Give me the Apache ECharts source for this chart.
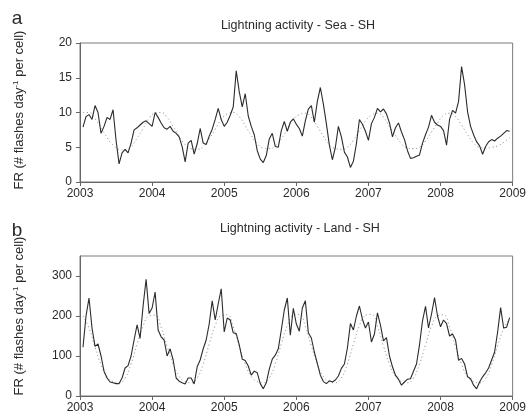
<!DOCTYPE html>
<html>
<head>
<meta charset="utf-8">
<script src="https://cdn.jsdelivr.net/npm/echarts@6/dist/echarts.min.js"></script>
<style>
  html, body { margin: 0; padding: 0; background: #ffffff; }
  #chart { width: 529px; height: 414px; }
</style>
</head>
<body>
<div id="chart"></div>
<script>
// Flash rate series, sampled every 1/24 year, first sample at 2003 + 1/24
const startYear = 2003;
const samplesPerYear = 24;
const yearTicks = [2003, 2004, 2005, 2006, 2007, 2008, 2009];

// Sea, southern hemisphere (flashes per day per cell)
const seaFR = [
  7.9, 9.4, 9.7, 9.0, 11.0, 10.0, 7.0, 8.0, 9.3, 9.0, 10.4, 6.0,
  2.6, 4.2, 4.7, 4.2, 5.6, 7.5, 7.8, 8.2, 8.6, 8.8, 8.4, 8.0,
  10.0, 9.3, 8.5, 7.8, 7.6, 8.0, 7.3, 7.0, 6.5, 5.1, 2.9, 5.6,
  6.0, 4.0, 5.5, 7.7, 5.6, 5.4, 6.6, 7.6, 9.0, 10.6, 9.0, 8.0,
  8.6, 9.6, 10.8, 16.0, 13.0, 10.8, 12.7, 9.5, 8.0, 6.8, 4.5, 3.3,
  2.8, 3.8, 6.2, 7.0, 5.1, 5.0, 7.4, 8.7, 7.3, 8.6, 9.1, 8.3,
  7.7, 6.6, 8.8, 10.5, 11.0, 8.6, 11.6, 13.6, 11.2, 8.4, 5.3, 3.2,
  5.0, 8.0, 6.5, 4.3, 3.6, 2.1, 3.0, 5.5, 9.0, 8.3, 7.3, 6.0,
  8.4, 9.3, 10.6, 10.1, 10.5, 9.8, 8.5, 6.5, 7.8, 8.5, 7.2, 6.1,
  4.5, 3.4, 3.5, 3.7, 3.9, 5.6, 6.8, 7.9, 9.6, 8.6, 8.2, 8.0,
  7.4, 5.3, 9.0, 10.3, 9.9, 11.6, 16.6, 14.0, 10.1, 8.0, 6.8, 5.8,
  5.2, 4.0, 5.1, 5.8, 6.1, 5.9, 6.3, 6.6, 7.0, 7.4, 7.3
];

// Land, southern hemisphere
const landFR = [
  122, 200, 245, 170, 124, 130, 100, 62, 45, 35, 33, 31,
  31, 45, 70, 76, 100, 140, 178, 144, 225, 292, 206, 220,
  260, 165, 148, 140, 100, 118, 90, 45, 37, 33, 30, 45,
  45, 30, 73, 90, 118, 140, 180, 238, 190, 230, 268, 160,
  195, 190, 158, 156, 128, 92, 89, 75, 52, 62, 58, 31,
  18, 33, 67, 92, 102, 118, 165, 215, 245, 152, 219, 180,
  162, 220, 238, 158, 145, 110, 81, 52, 36, 31, 38, 35,
  40, 50, 69, 80, 120, 181, 165, 200, 225, 192, 170, 185,
  135, 155, 208, 177, 138, 146, 100, 73, 52, 42, 27, 35,
  42, 43, 62, 80, 128, 188, 224, 170, 205, 246, 200, 173,
  190, 181, 150, 155, 140, 89, 94, 80, 48, 43, 27, 18,
  35, 48, 58, 70, 90, 110, 160, 221, 170, 172, 196
];

// Smooth seasonal reference curves, one value per month (mid-month)
const seaSeasonal = [
  10.0, 10.0, 9.1, 7.8, 6.4, 5.3, 4.7, 4.6, 5.1, 6.3, 7.7, 9.2,
  9.9, 10.0, 9.3, 8.0, 6.6, 5.4, 4.8, 4.7, 5.1, 6.2, 7.6, 9.0,
  9.8, 10.0, 9.4, 8.1, 6.7, 5.5, 4.9, 4.8, 5.2, 6.2, 7.6, 9.0,
  9.7, 9.9, 9.3, 8.0, 6.6, 5.4, 4.8, 4.7, 5.0, 6.0, 7.4, 8.8,
  9.6, 9.9, 9.3, 8.0, 6.7, 5.5, 4.9, 4.8, 5.0, 5.9, 7.2, 8.5,
  9.6, 9.9, 9.4, 8.2, 6.8, 5.6, 5.0, 4.9, 5.0, 5.2, 5.7, 6.4
];
const landSeasonal = [
  200, 170, 122, 78, 48, 36, 33, 45, 80, 130, 175, 200,
  202, 172, 124, 80, 49, 36, 33, 45, 80, 130, 176, 201,
  203, 173, 125, 80, 49, 36, 33, 45, 80, 130, 176, 202,
  204, 174, 125, 80, 49, 36, 33, 45, 80, 130, 176, 202,
  204, 174, 125, 80, 49, 36, 33, 45, 80, 128, 174, 200,
  203, 173, 124, 79, 48, 36, 33, 44, 78, 125, 168, 192
];

function toPairs(values, perYear, offset) {
  return values.map((v, k) => [startYear + (k + offset) / perYear, v]);
}

const FONT = '"Liberation Sans", Arial, Helvetica, sans-serif';
const TEXT = '#2a2a2a';
const AXIS = '#666666';

function xAxisFor(gi) {
  return {
    gridIndex: gi, type: 'value', min: yearTicks[0], max: yearTicks[yearTicks.length - 1], interval: 1,
    axisLine: { show: true, lineStyle: { color: AXIS, width: 1 } },
    axisTick: { show: true, inside: false, length: 4, lineStyle: { color: AXIS } },
    axisLabel: { color: TEXT, fontSize: 12, fontFamily: FONT, margin: 6, formatter: v => String(v) },
    splitLine: { show: false }
  };
}
function yAxisFor(gi, max, interval, ticks) {
  return {
    gridIndex: gi, type: 'value', min: 0, max: max, interval: interval,
    axisLine: { show: true, lineStyle: { color: AXIS, width: 1 } },
    axisTick: { show: true, inside: false, length: 4, lineStyle: { color: AXIS }, customValues: ticks },
    axisLabel: { color: TEXT, fontSize: 12, fontFamily: FONT, margin: 8, customValues: ticks },
    splitLine: { show: false }
  };
}

function yName(x, y) {
  return {
    type: 'text', x: x, y: y, rotation: Math.PI / 2, silent: true,
    style: {
      text: '{n|FR (# flashes day}{s|-1}{n| per cell)}',
      align: 'center', verticalAlign: 'middle', fill: TEXT,
      rich: {
        n: { fontSize: 13, fontFamily: FONT, fill: TEXT, lineHeight: 15 },
        s: { fontSize: 8, fontFamily: FONT, fill: TEXT, verticalAlign: 'top', lineHeight: 15 }
      }
    }
  };
}
function label(x, y, text, size) {
  return {
    type: 'text', x: x, y: y, silent: true,
    style: { text: text, align: 'center', verticalAlign: 'middle', fill: TEXT, fontSize: size, fontFamily: FONT }
  };
}

const solid = { color: '#2b2b2b', width: 1.1 };
const dotted = { color: '#9a9a9a', width: 1, type: [1.2, 2.6] };

const option = {
  animation: false,
  backgroundColor: '#ffffff',
  grid: [
    { left: 80, top: 43, width: 435, height: 139, show: true, borderColor: '#7a7a7a', borderWidth: 1, backgroundColor: 'transparent' },
    { left: 80, top: 256, width: 435, height: 140, show: true, borderColor: '#7a7a7a', borderWidth: 1, backgroundColor: 'transparent' }
  ],
  xAxis: [xAxisFor(0), xAxisFor(1)],
  yAxis: [
    yAxisFor(0, 20, 5, [0, 5, 10, 15, 20]),
    yAxisFor(1, 350, 50, [0, 100, 200, 300])
  ],
  series: [
    { type: 'line', xAxisIndex: 0, yAxisIndex: 0, data: toPairs(seaSeasonal, 12, 0.5), smooth: true, showSymbol: false, lineStyle: dotted, z: 2 },
    { type: 'line', xAxisIndex: 0, yAxisIndex: 0, data: toPairs(seaFR, samplesPerYear, 1), showSymbol: false, lineStyle: solid, z: 3 },
    { type: 'line', xAxisIndex: 1, yAxisIndex: 1, data: toPairs(landSeasonal, 12, 0.5), smooth: true, showSymbol: false, lineStyle: dotted, z: 2 },
    { type: 'line', xAxisIndex: 1, yAxisIndex: 1, data: toPairs(landFR, samplesPerYear, 1), showSymbol: false, lineStyle: solid, z: 3 }
  ],
  graphic: [
    label(17, 19, 'a', 19),
    label(17, 231, 'b', 19),
    label(298, 26, 'Lightning activity - Sea - SH', 12.5),
    label(300, 229, 'Lightning activity - Land - SH', 12.5),
    yName(19, 110),
    yName(19, 316)
  ]
};

const chart = echarts.init(document.getElementById('chart'), null, { renderer: 'canvas' });
chart.setOption(option);
</script>
</body>
</html>
